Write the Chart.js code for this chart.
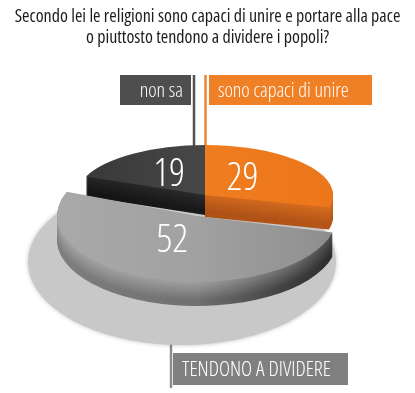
<!DOCTYPE html>
<html><head><meta charset="utf-8">
<script src="https://cdn.jsdelivr.net/npm/chart.js@4.4.1/dist/chart.umd.min.js"></script>
<style>html,body{margin:0;padding:0;background:#fff;overflow:hidden}canvas{display:block}</style>
</head><body>
<canvas id="c" width="415" height="393"></canvas>
<script>
// ---------- data ----------
const titleLines = ['Secondo lei le religioni sono capaci di unire e portare alla pace', 'o piuttosto tendono a dividere i popoli?'];
const categories = ['sono capaci di unire', 'tendono a dividere', 'non sa'];
const boxLabels = ['sono capaci di unire', 'TENDONO A DIVIDERE', 'non sa'];
const values = [29, 52, 19];
const sliceColors = ['#f07d1f', '#9e9e9e', '#4a4a4a'];

// ---------- fonts ----------
const FAMILY = '"Open Sans", "Noto Sans", sans-serif';
const WEIGHT = 'normal condensed';
const mctx = document.createElement('canvas').getContext('2d');
function setFont(ctx, size, weight) {
  ctx.font = `${weight || WEIGHT} ${size}px ${FAMILY}`;
  ctx.fontStretch = 'condensed';
}
function fitSize(text, width, weight) {
  setFont(mctx, 40, weight);
  return 40 * width / mctx.measureText(text).width;
}
const LIGHT = '300 condensed';
const titleSize = Math.min(18, fitSize(titleLines[0], 394));
const boxSize = Math.min(20, fitSize(boxLabels[0], 150, LIGHT));
const capsSize = Math.min(21, fitSize(boxLabels[1], 150, LIGHT));
const numSize = 39;

// ---------- 3D projection / look (style) ----------
const proj = [
  { cx: 205, cy: 195, rx: 128, ry: 50, depth: 22, lf: 0.37, ldy: -8 },
  { cx: 197, cy: 216, rx: 140, ry: 66, depth: 24, lf: 0.57, ldy: -14 },
  { cx: 205, cy: 195, rx: 128, ry: 50, depth: 20, lf: 0.5, ldy: -2 }
];
const look = [
  { top: [[0, '#f28222'], [1, '#ec771b']],
    sideTop: [[0, '#c9621c'], [1, '#d66c1e']],
    sideBot: [[0, '#a54c15'], [1, '#b55617']] },
  { top: [[0, '#a9a9a9'], [0.5, '#a1a1a1'], [0.85, '#949494'], [1, '#8c8c8c']],
    sideTop: [[0, '#a2a2a2'], [0.5, '#a0a0a0'], [0.85, '#6a6a6a'], [1, '#4a4a4a']],
    sideBot: [[0, '#7e7e7e'], [0.5, '#707070'], [0.85, '#3c3c3c'], [1, '#2c2c2c']] },
  { top: [[0, '#383838'], [1, '#565656']],
    sideTop: [[0, '#262626'], [1, '#303030']],
    sideBot: [[0, '#141414'], [1, '#1e1e1e']] }
];
const boxes = [
  { i: 0, x: 209, y: 75, w: 163, h: 30, lx: 205.5, ly1: 75, ly2: 152, fill: '#f08026', line: '#ee8430', align: 'left', size: boxSize },
  { i: 1, x: 173, y: 353, w: 175, h: 32, lx: 171, ly1: 300, ly2: 388, fill: '#808080', line: '#8c8c8c', align: 'left', size: capsSize },
  { i: 2, x: 120, y: 75, w: 71, h: 30, lx: 194, ly1: 75, ly2: 152, fill: '#4e4e4e', line: '#505050', align: 'right', size: boxSize }
];

function hex(c) { return [1, 3, 5].map(k => parseInt(c.substr(k, 2), 16)); }
function mix(a, b, t) { const A = hex(a), B = hex(b); return 'rgb(' + A.map((v, k) => Math.round(v + (B[k] - v) * t)).join(',') + ')'; }
function grad(ctx, p, stops) {
  const g = ctx.createLinearGradient(p.cx - p.rx, 0, p.cx + p.rx, 0);
  stops.forEach(s => g.addColorStop(s[0], s[1]));
  return g;
}
function slicePath(ctx, arc, p, dy) {
  const R = arc.outerRadius;
  ctx.save();
  ctx.translate(p.cx, p.cy + dy);
  ctx.scale(p.rx / R, p.ry / R);
  ctx.beginPath();
  ctx.moveTo(0, 0);
  ctx.arc(0, 0, R, arc.startAngle, arc.endAngle);
  ctx.closePath();
  ctx.restore();
}
function drawSlice(ctx, arc, p, lk) {
  for (let d = p.depth; d >= 1; d--) {
    const t = d / p.depth;
    const stops = lk.sideTop.map((s, k) => [s[0], mix(s[1], lk.sideBot[k][1], Math.min(1, t * 1.3))]);
    slicePath(ctx, arc, p, d);
    ctx.fillStyle = grad(ctx, p, stops);
    ctx.fill();
  }
  slicePath(ctx, arc, p, 0);
  ctx.fillStyle = grad(ctx, p, lk.top);
  ctx.fill();
}

const pie3d = {
  id: 'pie3d',
  beforeDatasetsDraw(chart) {
    const ctx = chart.ctx;
    const meta = chart.getDatasetMeta(0);
    ctx.save();
    boxes.forEach(b => {
      ctx.strokeStyle = b.line; ctx.lineWidth = 2.5;
      ctx.beginPath(); ctx.moveTo(b.lx, b.ly1); ctx.lineTo(b.lx, b.ly2); ctx.stroke();
    });
    ctx.beginPath();
    ctx.ellipse(182, 262, 154, 83, 0, 0, Math.PI * 2);
    ctx.shadowColor = 'rgba(0,0,0,0.25)'; ctx.shadowBlur = 4;
    ctx.fillStyle = '#c8c8c8'; ctx.fill();
    ctx.shadowBlur = 0;
    ctx.restore();
    [2, 0, 1].forEach(i => drawSlice(ctx, meta.data[i], proj[i], look[i]));
    return false;
  },
  afterDraw(chart) {
    const ctx = chart.ctx;
    const meta = chart.getDatasetMeta(0);
    ctx.save();
    ctx.fillStyle = '#ffffff';
    setFont(ctx, numSize, LIGHT);
    ctx.textAlign = 'center';
    ctx.textBaseline = 'alphabetic';
    meta.data.forEach((arc, i) => {
      const p = proj[i];
      const mid = (arc.startAngle + arc.endAngle) / 2;
      const x = p.cx + p.lf * p.rx * Math.cos(mid);
      const y = p.cy + p.lf * p.ry * Math.sin(mid) + p.ldy;
      ctx.fillText(String(values[i]), x, y + numSize * 0.36);
    });
    boxes.forEach(b => {
      ctx.fillStyle = b.fill;
      ctx.fillRect(b.x, b.y, b.w, b.h);
      ctx.fillStyle = '#ffffff';
      setFont(ctx, b.size, LIGHT);
      ctx.textBaseline = 'middle';
      ctx.textAlign = b.align;
      const tx = b.align === 'left' ? b.x + 9 : b.x + b.w - 8;
      ctx.fillText(boxLabels[b.i], tx, b.y + b.h / 2 + 1);
    });
    ctx.restore();
  }
};

new Chart(document.getElementById('c'), {
  type: 'pie',
  data: { labels: categories, datasets: [{ data: values, backgroundColor: sliceColors, borderWidth: 0 }] },
  options: {
    responsive: false, animation: false, devicePixelRatio: 1, events: [],
    plugins: {
      legend: { display: false },
      tooltip: { enabled: false },
      title: {
        display: true, text: titleLines, color: '#1c1c1c',
        font: { family: FAMILY, size: titleSize, weight: WEIGHT, lineHeight: 21 / titleSize },
        padding: { top: 6, bottom: 4 }
      }
    }
  },
  plugins: [pie3d]
});
</script>
</body></html>
